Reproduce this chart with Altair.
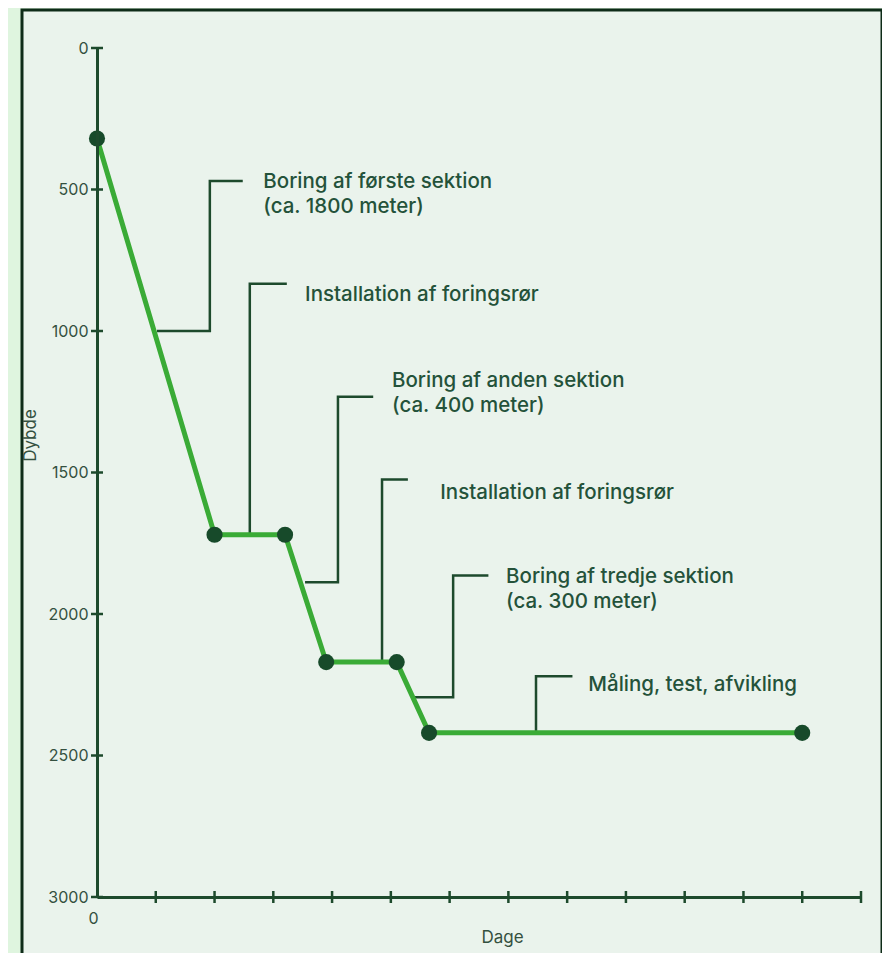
import altair as alt
import pandas as pd

# main drilling profile
days = [0, 2, 3.2, 3.9, 5.1, 5.65, 12]
depth = [320, 1720, 1720, 2170, 2170, 2420, 2420]

# bracket callouts (one polyline per annotation)
br_id = [1, 1, 1, 1, 2, 2, 2, 3, 3, 3, 3, 4, 4, 4, 5, 5, 5, 5, 6, 6, 6]
br_x = [1.02, 1.92, 1.92, 2.48, 2.6, 2.6, 3.23, 3.54, 4.1, 4.1, 4.7,
        4.85, 4.85, 5.29, 5.41, 6.06, 6.06, 6.66, 7.47, 7.47, 8.09]
br_y = [1000, 1000, 470, 470, 1720, 833, 833, 1888, 1888, 1232, 1232,
        2170, 1525, 1525, 2294, 2294, 1864, 1864, 2420, 2220, 2220]

# annotation text lines
txt = ["Boring af første sektion", "(ca. 1800 meter)",
       "Installation af foringsrør",
       "Boring af anden sektion", "(ca. 400 meter)",
       "Installation af foringsrør",
       "Boring af tredje sektion", "(ca. 300 meter)",
       "Måling, test, afvikling"]
txt_x = [2.83, 2.83, 3.54, 5.02, 5.02, 5.84, 6.96, 6.96, 8.36]
txt_y = [473, 561, 872, 1175, 1264, 1571, 1871, 1959, 2252]

y_ticks = [0, 500, 1000, 1500, 2000, 2500, 3000]
x_ticks = list(range(1, 14))

DARK = "#1d4a2c"
GREEN = "#3aab36"
TXT = "#24523a"
LBL = "#34503f"
FONT = "Inter"

xs = alt.Scale(domain=[0, 13], nice=False, zero=False)
ys = alt.Scale(domain=[0, 3000], reverse=True, nice=False)

line_df = pd.DataFrame({"d": days, "z": depth})
br_df = pd.DataFrame({"id": br_id, "x": br_x, "y": br_y, "o": list(range(len(br_id)))})
txt_df = pd.DataFrame({"t": txt, "x": txt_x, "y": txt_y})
yt_df = pd.DataFrame({"y": y_ticks, "x": [0] * len(y_ticks)})
xt_df = pd.DataFrame({"x": x_ticks, "y": [3000] * len(x_ticks)})

panel = alt.Chart(pd.DataFrame({"a": [0]})).mark_rect(
    fill="#eaf3ec", stroke="#0e2c18", strokeWidth=3
).encode(x=alt.value(-75), x2=alt.value(785), y=alt.value(-38), y2=alt.value(930))

base_axes = alt.Chart(line_df).mark_point(opacity=0).encode(
    x=alt.X("d:Q", scale=xs,
            axis=alt.Axis(values=[0], format="d", ticks=False, domainColor=DARK, domainWidth=3,
                          labelColor=LBL, labelFont=FONT, labelFontSize=16, labelFlush=False,
                          labelPadding=13, labelOffset=-4, grid=False, zindex=1,
                          title="Dage", titleFont=FONT, titleFontSize=17,
                          titleFontWeight="normal", titleColor=LBL,
                          titleX=405, titleY=40, titleBaseline="middle")),
    y=alt.Y("z:Q", scale=ys,
            axis=alt.Axis(values=y_ticks, format="d", ticks=False, domainColor=DARK, domainWidth=3,
                          labelColor=LBL, labelFont=FONT, labelFontSize=16, labelFlush=False,
                          labelPadding=9, grid=False, zindex=1,
                          title="Dybde", titleFont=FONT, titleFontSize=17,
                          titleFontWeight="normal", titleColor=LBL,
                          titleX=-67, titleY=387, titleBaseline="middle")),
)

yticks = alt.Chart(yt_df).mark_tick(color=DARK, size=12, thickness=2.5, opacity=1,
                                    orient="horizontal").encode(
    x=alt.X("x:Q", scale=xs), y=alt.Y("y:Q", scale=ys))
xticks = alt.Chart(xt_df).mark_tick(color=DARK, size=12, thickness=2.5, opacity=1,
                                    orient="vertical").encode(
    x=alt.X("x:Q", scale=xs), y=alt.Y("y:Q", scale=ys))

brackets = alt.Chart(br_df).mark_line(color=DARK, strokeWidth=2.5, strokeJoin="miter").encode(
    x=alt.X("x:Q", scale=xs), y=alt.Y("y:Q", scale=ys), detail="id:N", order="o:Q")

profile = alt.Chart(line_df).mark_line(color=GREEN, strokeWidth=5).encode(
    x=alt.X("d:Q", scale=xs), y=alt.Y("z:Q", scale=ys))
dots = alt.Chart(line_df).mark_circle(color="#174a2a", size=260, opacity=1).encode(
    x=alt.X("d:Q", scale=xs), y=alt.Y("z:Q", scale=ys))

labels = alt.Chart(txt_df).mark_text(
    align="left", baseline="middle", font=FONT, fontSize=20.5, fontWeight=500, color=TXT
).encode(x=alt.X("x:Q", scale=xs), y=alt.Y("y:Q", scale=ys), text="t:N")

chart = alt.layer(panel, base_axes, yticks, xticks, brackets, profile, dots, labels).properties(
    width=764, height=849,
    autosize=alt.AutoSizeParams(type="none"),
    padding={"left": 89, "top": 40, "right": 21, "bottom": 56},
    background="#dff5df",
).configure_view(stroke=None)

chart.save("out.html", embed_options={"renderer": "svg", "actions": False})
